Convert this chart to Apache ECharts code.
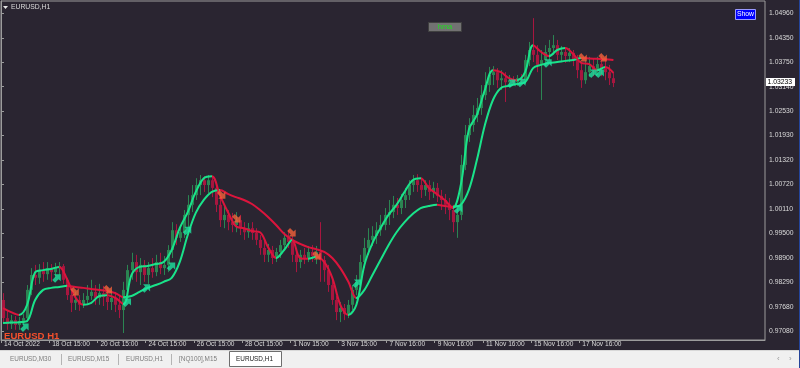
<!DOCTYPE html>
<html><head><meta charset="utf-8">
<script src="https://cdn.jsdelivr.net/npm/echarts@6/dist/echarts.min.js"></script>
<style>html,body{margin:0;padding:0;background:#2a2531;}#c{width:800px;height:368px;}</style>
</head><body><div id="c"></div>
<script>
const xLabels = ['14 Oct 2022','18 Oct 15:00','20 Oct 15:00','24 Oct 15:00','26 Oct 15:00','28 Oct 15:00','1 Nov 15:00','3 Nov 15:00','7 Nov 16:00','9 Nov 16:00','11 Nov 16:00','15 Nov 16:00','17 Nov 16:00'];
const yTicks = [0.97080,0.97680,0.98290,0.98900,0.99500,1.00110,1.00720,1.01320,1.01930,1.02530,1.03140,1.03750,1.04350,1.04960];
const lastPrice = 1.03233;

const opens = [0.9785,0.9740,0.9725,0.9735,0.9723,0.9733,0.9740,0.9810,0.9847,0.9840,
0.9859,0.9849,0.9864,0.9854,0.9864,0.9869,0.9835,0.9797,0.9778,0.9785,
0.9773,0.9785,0.9795,0.9805,0.9790,0.9802,0.9792,0.9780,0.9790,0.9773,
0.9760,0.9810,0.9859,0.9879,0.9854,0.9872,0.9847,0.9864,0.9854,0.9879,
0.9864,0.9872,0.9909,0.9958,0.9939,0.9953,0.9996,1.0021,1.0045,1.0070,
1.0082,1.0070,1.0082,1.0063,1.0021,0.9983,0.9996,0.9978,0.9971,0.9983,
0.9963,0.9953,0.9963,0.9951,0.9934,0.9914,0.9897,0.9909,0.9889,0.9904,
0.9921,0.9939,0.9929,0.9897,0.9879,0.9897,0.9889,0.9904,0.9894,0.9904,
0.9884,0.9859,0.9822,0.9785,0.9755,0.9765,0.9750,0.9773,0.9810,0.9830,
0.9879,0.9914,0.9934,0.9944,0.9958,0.9971,0.9996,1.0003,1.0021,1.0013,
1.0033,1.0045,1.0070,1.0082,1.0070,1.0058,1.0070,1.0053,1.0063,1.0043,
1.0033,1.0021,1.0008,0.9978,0.9996,1.0120,1.0194,1.0219,1.0244,1.0261,
1.0293,1.0318,1.0343,1.0350,1.0330,1.0335,1.0325,1.0330,1.0325,1.0335,
1.0330,1.0380,1.0405,1.0393,1.0368,1.0380,1.0400,1.0410,1.0417,1.0393,
1.0400,1.0390,1.0398,1.0380,1.0355,1.0330,1.0350,1.0365,1.0355,1.0370,
1.0360,1.0350,1.0335];
const closes = [0.9740,0.9725,0.9735,0.9723,0.9733,0.9740,0.9810,0.9847,0.9840,0.9859,
0.9849,0.9864,0.9854,0.9864,0.9869,0.9835,0.9797,0.9778,0.9785,0.9773,
0.9785,0.9795,0.9805,0.9790,0.9802,0.9792,0.9780,0.9790,0.9773,0.9760,
0.9810,0.9859,0.9879,0.9854,0.9872,0.9847,0.9864,0.9854,0.9879,0.9864,
0.9872,0.9909,0.9958,0.9939,0.9953,0.9996,1.0021,1.0045,1.0070,1.0082,
1.0070,1.0082,1.0063,1.0021,0.9983,0.9996,0.9978,0.9971,0.9983,0.9963,
0.9953,0.9963,0.9951,0.9934,0.9914,0.9897,0.9909,0.9889,0.9904,0.9921,
0.9939,0.9929,0.9897,0.9879,0.9897,0.9889,0.9904,0.9894,0.9904,0.9884,
0.9859,0.9822,0.9785,0.9755,0.9765,0.9750,0.9773,0.9810,0.9830,0.9879,
0.9914,0.9934,0.9944,0.9958,0.9971,0.9996,1.0003,1.0021,1.0013,1.0033,
1.0045,1.0070,1.0082,1.0070,1.0058,1.0070,1.0053,1.0063,1.0043,1.0033,
1.0021,1.0008,0.9978,0.9996,1.0120,1.0194,1.0219,1.0244,1.0261,1.0293,
1.0318,1.0343,1.0350,1.0330,1.0335,1.0325,1.0330,1.0325,1.0335,1.0330,
1.0380,1.0405,1.0393,1.0368,1.0380,1.0400,1.0410,1.0417,1.0393,1.0400,
1.0390,1.0398,1.0380,1.0355,1.0330,1.0350,1.0365,1.0355,1.0370,1.0360,
1.0350,1.0335,1.0323];
const highs = [0.9802,0.9760,0.9748,0.9745,0.9743,0.9750,0.9822,0.9864,0.9872,0.9874,
0.9879,0.9879,0.9874,0.9877,0.9879,0.9874,0.9840,0.9810,0.9805,0.9797,
0.9802,0.9822,0.9835,0.9822,0.9825,0.9820,0.9817,0.9810,0.9805,0.9797,
0.9830,0.9872,0.9902,0.9897,0.9889,0.9884,0.9879,0.9889,0.9897,0.9902,
0.9894,0.9921,0.9978,0.9973,0.9971,1.0008,1.0045,1.0070,1.0087,1.0095,
1.0092,1.0095,1.0092,1.0070,1.0045,1.0021,1.0008,1.0001,1.0003,0.9996,
0.9978,0.9976,0.9978,0.9963,0.9946,0.9934,0.9924,0.9919,0.9914,0.9934,
0.9953,0.9958,0.9944,0.9909,0.9909,0.9914,0.9919,0.9921,0.9919,0.9978,
0.9894,0.9872,0.9835,0.9795,0.9780,0.9775,0.9785,0.9822,0.9847,0.9897,
0.9939,0.9963,0.9968,0.9978,0.9996,1.0013,1.0033,1.0043,1.0038,1.0048,
1.0063,1.0082,1.0095,1.0097,1.0087,1.0082,1.0082,1.0078,1.0075,1.0058,
1.0048,1.0038,1.0021,1.0013,1.0145,1.0219,1.0236,1.0268,1.0286,1.0318,
1.0350,1.0363,1.0365,1.0360,1.0355,1.0350,1.0343,1.0340,1.0343,1.0345,
1.0393,1.0425,1.0484,1.0417,1.0405,1.0417,1.0430,1.0442,1.0430,1.0415,
1.0412,1.0410,1.0405,1.0393,1.0375,1.0380,1.0388,1.0385,1.0388,1.0390,
1.0380,1.0368,1.0350];
const lows = [0.9730,0.9711,0.9713,0.9711,0.9711,0.9721,0.9730,0.9797,0.9822,0.9825,
0.9830,0.9835,0.9830,0.9840,0.9847,0.9825,0.9785,0.9755,0.9760,0.9758,
0.9765,0.9773,0.9785,0.9773,0.9773,0.9770,0.9760,0.9760,0.9755,0.9740,
0.9703,0.9785,0.9835,0.9830,0.9822,0.9830,0.9825,0.9840,0.9844,0.9849,
0.9847,0.9854,0.9889,0.9921,0.9929,0.9939,0.9963,1.0003,1.0033,1.0045,
1.0053,1.0050,1.0040,1.0003,0.9966,0.9963,0.9958,0.9953,0.9953,0.9946,
0.9934,0.9939,0.9934,0.9921,0.9897,0.9879,0.9879,0.9874,0.9879,0.9889,
0.9909,0.9914,0.9879,0.9854,0.9864,0.9874,0.9879,0.9879,0.9874,0.9830,
0.9830,0.9805,0.9773,0.9735,0.9730,0.9735,0.9740,0.9760,0.9797,0.9815,
0.9864,0.9897,0.9919,0.9924,0.9944,0.9958,0.9971,0.9988,0.9996,0.9998,
1.0013,1.0033,1.0053,1.0053,1.0038,1.0043,1.0033,1.0038,1.0028,1.0008,
0.9998,0.9983,0.9953,0.9939,0.9983,1.0107,1.0177,1.0202,1.0226,1.0244,
1.0281,1.0301,1.0318,1.0311,1.0306,1.0276,1.0316,1.0318,1.0316,1.0321,
1.0321,1.0365,1.0375,1.0350,1.0281,1.0365,1.0380,1.0393,1.0380,1.0375,
1.0373,1.0375,1.0365,1.0335,1.0311,1.0321,1.0338,1.0340,1.0343,1.0340,
1.0330,1.0318,1.0313];

// HMA lines, sampled every 8 hours
const hmaFast = [0.9765,0.9755,0.9748,0.9773,0.9854,0.9859,0.9862,0.9867,0.9835,0.9792,
0.9773,0.9778,0.9795,0.9797,0.9790,0.9775,0.9847,0.9867,0.9869,0.9874,
0.9879,0.9909,0.9963,1.0003,1.0053,1.0087,1.0092,1.0045,1.0003,0.9968,
0.9963,0.9956,0.9953,0.9916,0.9889,0.9909,0.9934,0.9889,0.9887,0.9892,
0.9879,0.9840,0.9773,0.9748,0.9773,0.9872,0.9926,0.9963,0.9996,1.0021,
1.0053,1.0082,1.0087,1.0063,1.0048,1.0033,1.0013,1.0070,1.0207,1.0244,
1.0306,1.0355,1.0350,1.0335,1.0330,1.0350,1.0417,1.0400,1.0390,1.0405,
1.0410,1.0395,1.0373,1.0370,1.0355,1.0363,1.0348];
const hmaSlow = [0.9728,0.9729,0.9730,0.9733,0.9785,0.9810,0.9815,0.9817,0.9820,0.9817,
0.9815,0.9812,0.9810,0.9807,0.9802,0.9792,0.9795,0.9805,0.9815,0.9822,
0.9830,0.9840,0.9879,0.9946,1.0001,1.0033,1.0053,1.0058,1.0048,1.0040,
1.0033,1.0023,1.0008,0.9991,0.9971,0.9949,0.9934,0.9924,0.9916,0.9911,
0.9904,0.9889,0.9864,0.9830,0.9790,0.9810,0.9847,0.9884,0.9921,0.9953,
0.9978,0.9998,1.0013,1.0018,1.0021,1.0018,1.0016,1.0021,1.0058,1.0132,
1.0219,1.0281,1.0311,1.0316,1.0321,1.0325,1.0360,1.0368,1.0373,1.0375,
1.0378,1.0380,1.0385,1.0384,1.0383,1.0382,1.0380];

// signal arrows: [hour index, price]
const buyArrows = [[24,0.9718],[56,0.9840],[126,0.9780],[145,0.9815],[170,0.9869],[186,0.9958],[355,0.9827],[456,1.0011],[509,1.0323],[519,1.0325],[545,1.0373],[590,1.0348],[597,1.0348]];
const sellArrows = [[74,0.9805],[107,0.9810],[220,1.0045],[235,0.9986],[290,0.9951],[315,0.9894],[580,1.0385],[600,1.0385]];

const tabNames = ['EURUSD,M30','EURUSD,M15','EURUSD,H1','[NQ100],M15','EURUSD,H1'];

// ---- chart ----
const BG = '#2a2531', UP = '#2b8552', DN = '#a8163f', LG = '#19e38a', LR = '#dc143c';
const FONT = '"Liberation Sans", Arial, sans-serif';
const candleData = opens.map((o, i) => [i * 4 + 2, o, closes[i], lows[i], highs[i]]);
const fastData = hmaFast.map((v, k) => [k * 8 + 2, v]);
const slowData = hmaSlow.map((v, k) => [k * 8 + 2, v]);

function slopePieces(vals) {
  const pieces = [];
  for (let k = 0; k < vals.length - 1; k++) {
    const col = vals[k + 1] >= vals[k] ? LG : LR;
    const a = k * 8 + 2, b = (k + 1) * 8 + 2;
    const last = pieces[pieces.length - 1];
    if (last && last.color === col) last.lt = b; else pieces.push({ gte: a, lt: b, color: col });
  }
  pieces[0].gte = -1000;
  pieces[pieces.length - 1].lt = 100000;
  return pieces;
}
const ARROW = 'path://M5,0 L10,5 L7,5 L7,10 L3,10 L3,5 L0,5 Z';

const chart = echarts.init(document.getElementById('c'), null, { renderer: 'canvas' });
const tabPos = [[10, 0], [68, 0], [126, 0], [179, 0], [236, 1]];
const gfx = [
  { type: 'rect', shape: { x: 0, y: 350, width: 800, height: 18 }, style: { fill: '#f0f0f0' }, z: 50 },
  { type: 'line', shape: { x1: 0, y1: 350.5, x2: 800, y2: 350.5 }, style: { stroke: '#d8d8d8', lineWidth: 1 }, z: 51 },
  { type: 'rect', shape: { x: 229.5, y: 351.5, width: 52, height: 15 }, style: { fill: '#ffffff', stroke: '#6e6e6e', lineWidth: 1 }, z: 51 },
  { type: 'line', shape: { x1: 61.5, y1: 354, x2: 61.5, y2: 365 }, style: { stroke: '#b4b4b4' }, z: 51 },
  { type: 'line', shape: { x1: 118.5, y1: 354, x2: 118.5, y2: 365 }, style: { stroke: '#b4b4b4' }, z: 51 },
  { type: 'line', shape: { x1: 171.5, y1: 354, x2: 171.5, y2: 365 }, style: { stroke: '#b4b4b4' }, z: 51 },
  { type: 'text', x: 777, y: 359, style: { text: '‹', fill: '#9a9a9a', font: '8px ' + FONT, textVerticalAlign: 'middle' }, z: 52 },
  { type: 'text', x: 789, y: 359, style: { text: '›', fill: '#9a9a9a', font: '8px ' + FONT, textVerticalAlign: 'middle' }, z: 52 },
  { type: 'rect', shape: { x: 799, y: 0, width: 1, height: 368 }, style: { fill: '#24449a' }, z: 53 },
  { type: 'polygon', shape: { points: [[3, 6], [8, 6], [5.5, 9]] }, style: { fill: '#e6e6e6' }, z: 50 },
  { type: 'text', x: 11, y: 7.5, style: { text: 'EURUSD,H1', fill: '#dcdcdc', font: '6.8px ' + FONT, textVerticalAlign: 'middle' }, z: 50 },
  { type: 'rect', shape: { x: 428.5, y: 22.5, width: 33, height: 9 }, style: { fill: '#727272', stroke: '#404040', lineWidth: 1 }, z: 50 },
  { type: 'text', x: 445, y: 27.2, style: { text: 'hma', fill: '#1ee01e', font: '7.5px ' + FONT, textAlign: 'center', textVerticalAlign: 'middle' }, z: 51 },
  { type: 'rect', shape: { x: 735.5, y: 9.5, width: 20, height: 10 }, style: { fill: '#0000ff', stroke: '#9a9aff', lineWidth: 1 }, z: 50 },
  { type: 'text', x: 745.5, y: 14.5, style: { text: 'Show', fill: '#ffffff', font: '6.8px ' + FONT, textAlign: 'center', textVerticalAlign: 'middle' }, z: 51 },
  { type: 'rect', shape: { x: 766, y: 78, width: 29, height: 8 }, style: { fill: '#ffffff' }, z: 50 },
  { type: 'text', x: 767.5, y: 82.2, style: { text: lastPrice.toFixed(5), fill: '#000000', font: '6.8px ' + FONT, textVerticalAlign: 'middle' }, z: 51 },
  { type: 'text', x: 4, y: 336, style: { text: 'EURUSD H1', fill: '#f3502c', font: 'bold 9.6px ' + FONT, textVerticalAlign: 'middle' }, z: 50 }
];
tabNames.forEach((t, i) => {
  gfx.push({ type: 'text', x: tabPos[i][0], y: 359.5, style: { text: t, fill: tabPos[i][1] ? '#202020' : '#7c7c7c', font: '6.4px ' + FONT, textVerticalAlign: 'middle' }, z: 52 });
});

chart.setOption({
  backgroundColor: BG,
  animation: false,
  grid: { left: 1, right: 35, top: 1, bottom: 28, show: true, borderColor: '#9c9c9c', borderWidth: 1, backgroundColor: 'transparent' },
  xAxis: {
    type: 'value', min: 0, max: 761,
    axisLine: { show: true, lineStyle: { color: '#9c9c9c' } },
    axisTick: { show: true, length: 3, customValues: xLabels.map((_, i) => i * 48), lineStyle: { color: '#9c9c9c' } },
    axisLabel: { customValues: xLabels.map((_, i) => i * 48), formatter: v => xLabels[Math.round(v / 48)] || '', color: '#dadada', fontSize: 6.6, fontFamily: FONT, align: 'left', margin: 1, padding: [0, 0, 0, 3] },
    splitLine: { show: false }
  },
  yAxis: {
    type: 'value', position: 'right', min: 0.96857, max: 1.05265, scale: true,
    axisLine: { show: true, lineStyle: { color: '#9c9c9c' } },
    axisTick: { show: true, length: 3, customValues: yTicks, lineStyle: { color: '#9c9c9c' } },
    axisLabel: { customValues: yTicks, formatter: v => v.toFixed(5), color: '#dadada', fontSize: 6.8, fontFamily: FONT, margin: 4 },
    splitLine: { show: false }
  },
  visualMap: [
    { type: 'piecewise', show: false, dimension: 0, seriesIndex: 1, pieces: slopePieces(hmaFast) },
    { type: 'piecewise', show: false, dimension: 0, seriesIndex: 2, pieces: slopePieces(hmaSlow) }
  ],
  series: [
    {
      type: 'custom', silent: true, z: 2,
      encode: { x: 0, y: [1, 2, 3, 4] },
      data: candleData,
      renderItem: (params, api) => {
        const x = api.value(0), o = api.value(1), c = api.value(2), l = api.value(3), h = api.value(4);
        const po = api.coord([x, o]), pc = api.coord([x, c]), pl = api.coord([x, l]), ph = api.coord([x, h]);
        const col = c >= o ? UP : DN;
        const cx = Math.round(po[0]) + 0.5;
        const top = Math.min(po[1], pc[1]);
        return {
          type: 'group', children: [
            { type: 'line', shape: { x1: cx, y1: ph[1], x2: cx, y2: pl[1] }, style: { stroke: col, lineWidth: 1 } },
            { type: 'rect', shape: { x: cx - 1.5, y: top, width: 3, height: Math.max(1, Math.abs(po[1] - pc[1])) }, style: { fill: col } }
          ]
        };
      }
    },
    { type: 'line', data: fastData, smooth: 0.35, showSymbol: false, silent: true, z: 4, lineStyle: { width: 2 } },
    { type: 'line', data: slowData, smooth: 0.35, showSymbol: false, silent: true, z: 3, lineStyle: { width: 2 } },
    { type: 'scatter', data: buyArrows, symbol: ARROW, symbolSize: 10, symbolRotate: -45, silent: true, z: 6, itemStyle: { color: '#1de6a0' } },
    { type: 'scatter', data: sellArrows, symbol: ARROW, symbolSize: 10, symbolRotate: -135, silent: true, z: 6, itemStyle: { color: '#f4623a' } }
  ],
  graphic: { elements: gfx }
});
</script></body></html>
